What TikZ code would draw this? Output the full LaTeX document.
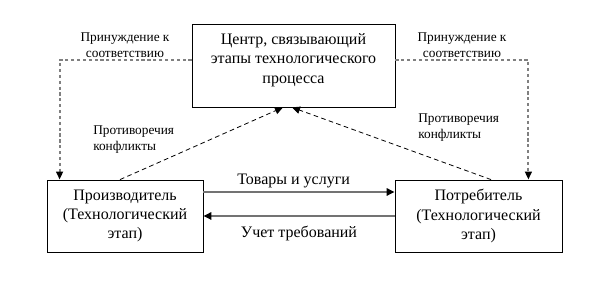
\documentclass[tikz,border=0pt]{standalone}
\usepackage{fontspec}
\setmainfont{LiberationSerif}[Extension=.ttf, UprightFont=*-Regular, BoldFont=*-Bold]
\usetikzlibrary{arrows.meta,positioning,calc}

\begin{document}
\begin{tikzpicture}[
  x=0.75pt, y=-0.75pt,
  % boxes
  box/.style={draw=black, line width=0.6pt, fill=white, inner sep=0pt,
              align=center, font=\rmfamily\fontsize{12}{14.3}\selectfont},
  boxtext/.style={align=center, inner sep=0pt, font=\rmfamily\fontsize{12}{14.6}\selectfont},
  % labels
  note/.style={inner sep=0pt, font=\rmfamily\fontsize{10}{12}\selectfont},
  flowlabel/.style={inner sep=0pt, font=\rmfamily\fontsize{12}{14.3}\selectfont},
  % connectors
  flow/.style={draw=black!55, line width=1.4pt,
               -{Triangle[length=6pt, width=5.5pt, color=black]}},
  force/.style={draw=black!50, line width=1.6pt, dash pattern=on 2.4pt off 2pt,
                -{Triangle[length=6pt, width=5pt, color=black]}},
  conflict/.style={draw=black, line width=0.6pt, dash pattern=on 3.5pt off 2.5pt,
                   -{Triangle[length=6pt, width=5.5pt]}}
]
  \useasboundingbox (0,0) rectangle (614,284);

  % =============================================================
  % Boxes
  % =============================================================
  \node[box, minimum width=152.25pt, minimum height=62.25pt] (hub) at (293.5, 65.5) {};
  \node[boxtext] (hubText) at (293.5, 60)
       {Центр, связывающий\\этапы технологического\\процесса};

  \node[box, minimum width=117pt, minimum height=54pt] (producer) at (125, 216)
       {Производитель\\(Технологический\\этап)};
  \node[box, minimum width=125.25pt, minimum height=54pt] (consumer) at (478.5, 216)
       {Потребитель\\(Технологический\\этап)};

  % =============================================================
  % Flows between producer and consumer
  % =============================================================
  \draw[flow] ([yshift=18pt]producer.east) -- ([yshift=18pt]consumer.west)
        node[flowlabel, midway, above=2pt, xshift=-4pt] (goods) {Товары и услуги};
  \draw[flow] (consumer.west) -- (producer.east)
        node[flowlabel, midway, below=7pt] (needs) {Учет требований};

  % =============================================================
  % Coercion (grey dashed, from hub down to both stages)
  % =============================================================
  \draw[force] ([yshift=4pt]hub.west) -| ([xshift=9.75pt]producer.north west);
  \draw[force] ([yshift=4pt]hub.east) -| ([xshift=-25.5pt]consumer.north east);

  \node[note, align=center] (forceL) at (125, 45) {Принуждение к\\соответствию};
  \node[note, align=center] (forceR) at (462, 45) {Принуждение к\\соответствию};

  % =============================================================
  % Contradictions (thin dashed, from stages up to hub)
  % =============================================================
  \draw[conflict] ([xshift=-3.75pt]producer.north) -- ([xshift=-7.9pt]hub.south);
  \draw[conflict] ([xshift=9.4pt]consumer.north) -- ([xshift=-1.1pt]hub.south);

  \node[note, align=left, anchor=west] (conflictL) at (93, 140) {Противоречия\\конфликты};
  \node[note, align=left, anchor=west] (conflictR) at (418, 128) {Противоречия\\конфликты};
\end{tikzpicture}
\end{document}
